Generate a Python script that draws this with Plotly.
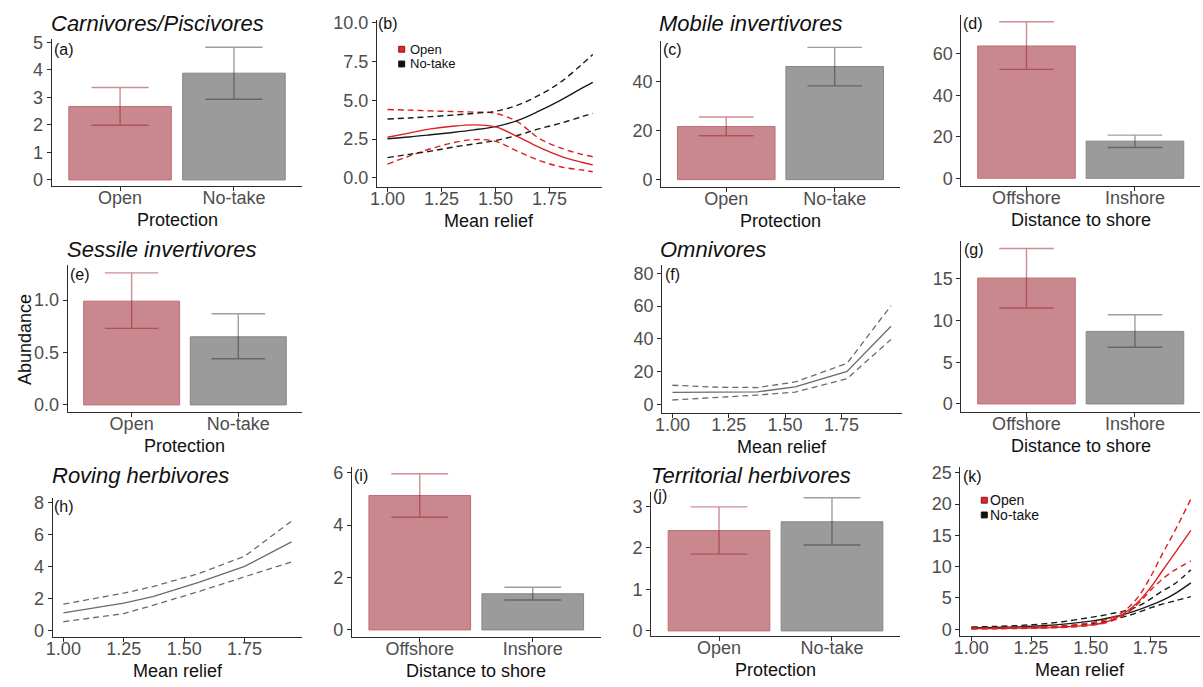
import plotly.graph_objects as go

W, H = 1203, 687

# ------------------------------------------------------------------ data
protection_cats = ["Open", "No-take"]
distance_cats = ["Offshore", "Inshore"]

# bar panels: mean, lower CI, upper CI
a_mean, a_lo, a_hi = [2.67, 3.88], [1.99, 2.93], [3.36, 4.82]      # Carnivores/Piscivores
c_mean, c_lo, c_hi = [21.7, 46.2], [17.9, 38.3], [25.6, 54.0]      # Mobile invertivores
d_mean, d_lo, d_hi = [63.8, 17.9], [52.5, 14.8], [75.5, 20.8]      # Mobile invertivores (distance)
e_mean, e_lo, e_hi = [0.99, 0.65], [0.73, 0.44], [1.26, 0.87]      # Sessile invertivores
g_mean, g_lo, g_hi = [15.1, 8.7], [11.5, 6.8], [18.65, 10.7]       # Omnivores (distance)
i_mean, i_lo, i_hi = [5.13, 1.38], [4.30, 1.14], [5.96, 1.63]      # Roving herbivores (distance)
j_mean, j_lo, j_hi = [2.42, 2.63], [1.85, 2.07], [2.99, 3.21]      # Territorial herbivores

# (b) Carnivores vs mean relief
b_x = [1.0, 1.1, 1.2, 1.3, 1.4, 1.5, 1.6, 1.7, 1.8, 1.9, 1.95]
b_open_mean = [2.62, 2.89, 3.16, 3.33, 3.42, 3.29, 2.68, 1.98, 1.41, 1.01, 0.84]
b_open_hi = [4.41, 4.37, 4.32, 4.28, 4.24, 4.16, 3.63, 2.57, 1.94, 1.52, 1.37]
b_open_lo = [0.89, 1.41, 1.88, 2.26, 2.47, 2.36, 1.73, 1.14, 0.72, 0.51, 0.40]
b_nt_mean = [2.53, 2.64, 2.78, 2.93, 3.10, 3.31, 3.69, 4.30, 5.00, 5.78, 6.16]
b_nt_hi = [3.80, 3.86, 3.95, 4.05, 4.16, 4.30, 4.68, 5.32, 6.16, 7.32, 7.95]
b_nt_lo = [1.31, 1.52, 1.73, 1.98, 2.19, 2.41, 2.74, 3.16, 3.52, 3.95, 4.16]

# (f) Omnivores vs mean relief
f_x = [1.0, 1.2, 1.378, 1.545, 1.775, 1.97]
f_mean = [7.2, 7.3, 7.6, 10.6, 20.0, 47.6]
f_hi = [11.6, 10.4, 10.2, 13.6, 25.0, 60.2]
f_lo = [2.6, 4.2, 5.6, 7.4, 15.6, 39.6]

# (h) Roving herbivores vs mean relief
h_x = [1.0, 1.25, 1.37, 1.56, 1.75, 1.944]
h_mean = [1.12, 1.73, 2.14, 3.02, 4.02, 5.55]
h_hi = [1.67, 2.35, 2.76, 3.57, 4.65, 6.84]
h_lo = [0.57, 1.08, 1.59, 2.45, 3.37, 4.29]

# (k) Territorial herbivores vs mean relief
k_x = [1.0, 1.1, 1.2, 1.3, 1.4, 1.5, 1.55, 1.6, 1.65, 1.7, 1.75, 1.8, 1.85, 1.92]
k_open_mean = [0.10, 0.13, 0.18, 0.25, 0.40, 0.70, 1.0, 1.7, 2.8, 4.4, 6.6, 9.3, 12.0, 15.8]
k_open_hi = [0.20, 0.25, 0.30, 0.40, 0.55, 1.0, 1.4, 2.0, 3.2, 5.2, 8.3, 12.0, 15.5, 20.8]
k_open_lo = [0.05, 0.08, 0.12, 0.18, 0.30, 0.60, 0.9, 1.5, 2.5, 4.1, 6.2, 8.0, 9.4, 10.9]
k_nt_mean = [0.20, 0.28, 0.38, 0.55, 0.85, 1.3, 1.6, 2.0, 2.5, 3.1, 3.8, 4.6, 5.6, 7.4]
k_nt_hi = [0.35, 0.45, 0.60, 0.85, 1.3, 1.9, 2.2, 2.6, 3.0, 3.7, 4.8, 6.1, 7.2, 9.5]
k_nt_lo = [0.10, 0.15, 0.22, 0.33, 0.55, 0.9, 1.15, 1.6, 2.1, 2.7, 3.4, 4.0, 4.5, 5.2]

# tick values
a_yticks = [0, 1, 2, 3, 4, 5]
b_yticks = [0, 2.5, 5, 7.5, 10]
c_yticks = [0, 20, 40]
d_yticks = [0, 20, 40, 60]
e_yticks = [0, 0.5, 1.0]
f_yticks = [0, 20, 40, 60, 80]
g_yticks = [0, 5, 10, 15]
h_yticks = [0, 2, 4, 6, 8]
i_yticks = [0, 2, 4, 6]
j_yticks = [0, 1, 2, 3]
k_yticks = [0, 5, 10, 15, 20, 25]
relief_ticks = [1.0, 1.25, 1.5, 1.75]

# ------------------------------------------------------------------ style
FONT = "Liberation Sans, Arial, sans-serif"
RED_FILL, RED_LINE, RED_ERR = "rgb(201,136,142)", "rgb(190,112,118)", "rgba(150,30,40,0.5)"
GREY_FILL, GREY_LINE, GREY_ERR = "rgb(155,155,155)", "rgb(135,135,135)", "rgba(40,40,40,0.45)"
RED, BLACK, GREY = "#dc1f1f", "#1a1a1a", "#6b6b6b"
AXC = "#2b2b2b"

# panel geometry in pixels: (left, top, right, bottom), y calibration, x calibration
panels = {
    "a": dict(box=(45, 33, 297, 182), ycal=((176, 0), (36, 5)), yt=a_yticks, yfmt="d", cats=protection_cats),
    "b": dict(box=(372, 13, 598, 183), ycal=((174, 0), (16, 10)), yt=b_yticks, yfmt=".1f",
              xcal=((382.7, 1.0), (545.7, 1.75))),
    "c": dict(box=(658, 35, 898, 183), ycal=((175.7, 0), (76, 40)), yt=c_yticks, yfmt="d", cats=protection_cats),
    "d": dict(box=(960, 8, 1200, 182), ycal=((174.3, 0), (47.7, 60)), yt=d_yticks, yfmt="d", cats=distance_cats),
    "e": dict(box=(61, 263, 297, 412), ycal=((405, 0), (298.3, 1.0)), yt=e_yticks, yfmt=".1f", cats=protection_cats),
    "f": dict(box=(659, 263, 900, 413), ycal=((404.3, 0), (271, 80)), yt=f_yticks, yfmt="d",
              xcal=((669.3, 1.0), (839.3, 1.75))),
    "g": dict(box=(960, 238, 1200, 412), ycal=((404, 0), (276.7, 15)), yt=g_yticks, yfmt="d", cats=distance_cats),
    "h": dict(box=(46, 500, 297, 641), ycal=((635, 0), (504.3, 8)), yt=h_yticks, yfmt="d",
              xcal=((56.7, 1.0), (239, 1.75))),
    "i": dict(box=(347, 468, 597, 641), ycal=((634, 0), (474, 6)), yt=i_yticks, yfmt="d", cats=distance_cats),
    "j": dict(box=(648, 494, 898, 640), ycal=((635, 0), (508.3, 3)), yt=j_yticks, yfmt="d", cats=protection_cats),
    "k": dict(box=(959, 468, 1200, 640), ycal=((633.3, 0), (474, 25)), yt=k_yticks, yfmt="d",
              xcal=((970, 1.0), (1150, 1.75))),
}


def cal_range(p_lo, p_hi, cal):
    (p1, v1), (p2, v2) = cal
    k = (v2 - v1) / (p2 - p1)
    return [v1 + (p_lo - p1) * k, v1 + (p_hi - p1) * k]


fig = go.Figure()
layout = dict(width=W, height=H, margin=dict(l=0, r=0, t=0, b=0), paper_bgcolor="white",
              plot_bgcolor="white", showlegend=False, barmode="overlay")

axis_common = dict(showline=True, linecolor=AXC, linewidth=1, ticks="outside", ticklen=4, tickwidth=1,
                   tickcolor=AXC, showgrid=False, zeroline=False, fixedrange=True,
                   tickfont=dict(family=FONT, size=18, color="#4d4d4d"))

axid = {}
for n, (key, p) in enumerate(panels.items(), start=1):
    sfx = "" if n == 1 else str(n)
    axid[key] = ("x" + sfx, "y" + sfx)
    L, T, R, B = p["box"]
    xa = dict(axis_common, domain=[L / W, R / W], anchor="y" + sfx, ticklabelstandoff=-8)
    ya = dict(axis_common, domain=[1 - B / H, 1 - T / H], anchor="x" + sfx,
              range=cal_range(B, T, p["ycal"]), tickmode="array", tickvals=p["yt"], tickformat=p["yfmt"])
    if "cats" in p:
        xa.update(type="category", range=[-0.6, 1.6], categoryorder="array", categoryarray=p["cats"])
    else:
        xa.update(range=cal_range(L, R, p["xcal"]), tickmode="array", tickvals=relief_ticks, tickformat=".2f")
    layout["xaxis" + sfx] = xa
    layout["yaxis" + sfx] = ya


def add_bars(key, cats, mean, lo, hi):
    xr, yr = axid[key]
    L, T, R, B = panels[key]["box"]
    cap = 0.25 * (R - L) / 2.2
    styles = [(RED_FILL, RED_LINE, RED_ERR), (GREY_FILL, GREY_LINE, GREY_ERR)]
    for c, m, l, h, (fc, lc, ec) in zip(cats, mean, lo, hi, styles):
        fig.add_trace(go.Bar(x=[c], y=[m], width=0.9, xaxis=xr, yaxis=yr,
                             marker=dict(color=fc, line=dict(color=lc, width=1)),
                             error_y=dict(type="data", symmetric=False, array=[h - m], arrayminus=[m - l],
                                          color=ec, thickness=1.4, width=cap)))


def add_line(key, x, y, color, dash=None, width=1.4, shape="linear"):
    xr, yr = axid[key]
    fig.add_trace(go.Scatter(x=x, y=y, mode="lines", xaxis=xr, yaxis=yr,
                             line=dict(color=color, width=width, dash=dash, shape=shape)))


add_bars("a", protection_cats, a_mean, a_lo, a_hi)
add_bars("c", protection_cats, c_mean, c_lo, c_hi)
add_bars("d", distance_cats, d_mean, d_lo, d_hi)
add_bars("e", protection_cats, e_mean, e_lo, e_hi)
add_bars("g", distance_cats, g_mean, g_lo, g_hi)
add_bars("i", distance_cats, i_mean, i_lo, i_hi)
add_bars("j", protection_cats, j_mean, j_lo, j_hi)

DASH = "6px,4px"
for ys, col, d in [(b_open_hi, RED, DASH), (b_open_lo, RED, DASH), (b_nt_hi, BLACK, DASH),
                   (b_nt_lo, BLACK, DASH), (b_nt_mean, BLACK, None), (b_open_mean, RED, None)]:
    add_line("b", b_x, ys, col, d, shape="spline")
for ys, d in [(f_hi, DASH), (f_lo, DASH), (f_mean, None)]:
    add_line("f", f_x, ys, GREY, d, width=1.3)
for ys, d in [(h_hi, DASH), (h_lo, DASH), (h_mean, None)]:
    add_line("h", h_x, ys, GREY, d, width=1.3)
for ys, col, d in [(k_nt_hi, BLACK, DASH), (k_nt_lo, BLACK, DASH), (k_nt_mean, BLACK, None),
                   (k_open_hi, RED, DASH), (k_open_lo, RED, DASH), (k_open_mean, RED, None)]:
    add_line("k", k_x, ys, col, d, shape="spline")

# ------------------------------------------------------------------ text
ann = []
shapes = []


def text(x, y, s, size=18, anchor="left", color="#111111", angle=0):
    ann.append(dict(x=x / W, y=1 - y / H, xref="paper", yref="paper", text=s, showarrow=False,
                    xanchor=anchor, yanchor="middle", textangle=angle,
                    font=dict(family=FONT, size=size, color=color)))


titles = [(42, 17, "Carnivores/Piscivores"), (654, 17, "Mobile invertivores"),
          (58, 247, "Sessile invertivores"), (655, 247, "Omnivores"),
          (43, 477, "Roving herbivores"), (646, 477, "Territorial herbivores")]
for x, y, s in titles:
    text(x, y, "<i>" + s + "</i>", size=22)

letters = [(45, 43, "(a)"), (371, 17, "(b)"), (658, 43, "(c)"), (960, 17, "(d)"),
           (61, 272, "(e)"), (660, 272, "(f)"), (961, 247, "(g)"), (45, 508, "(h)"),
           (347, 477, "(i)"), (648, 497, "(j)"), (960, 478, "(k)")]
for x, y, s in letters:
    text(x, y, s, size=16)

xtitles = {"a": "Protection", "b": "Mean relief", "c": "Protection", "d": "Distance to shore",
           "e": "Protection", "f": "Mean relief", "g": "Distance to shore", "h": "Mean relief",
           "i": "Distance to shore", "j": "Protection", "k": "Mean relief"}
for key, s in xtitles.items():
    L, T, R, B = panels[key]["box"]
    text((L + R) / 2, B + 35, s, anchor="center")

text(18, 338, "Abundance", anchor="center", angle=-90)

# legends in (b) and (k)
for (sx, sy1, sy2, tx, fs) in [(394, 43, 58, 403, 13), (980, 502, 517, 987, 14)]:
    for sy, fc, lc, lab in [(sy1, "#e3262a", "#8a1515", "Open"), (sy2, "#111111", "#111111", "No-take")]:
        shapes.append(dict(type="rect", xref="paper", yref="paper", x0=sx / W, x1=(sx + 6) / W,
                           y0=1 - (sy + 3) / H, y1=1 - (sy - 3) / H, fillcolor=fc,
                           line=dict(color=lc, width=1)))
        text(tx, sy, lab, size=fs)

layout["annotations"] = ann
layout["shapes"] = shapes
fig.update_layout(**layout)
fig.write_html("out.html")
